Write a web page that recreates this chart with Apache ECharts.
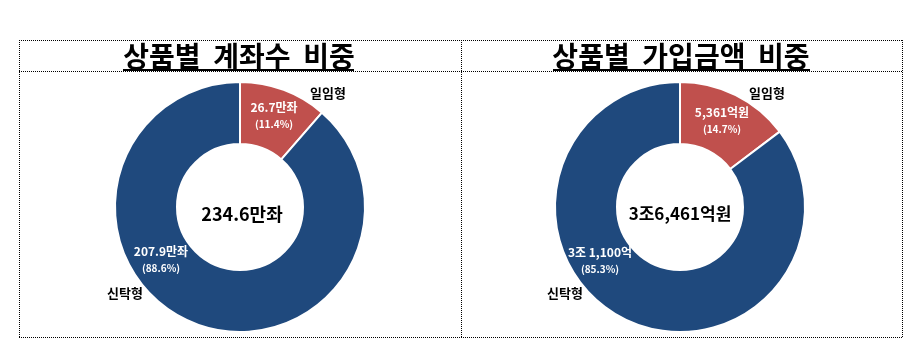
<!DOCTYPE html>
<html>
<head>
<meta charset="utf-8">
<script src="https://cdn.jsdelivr.net/npm/echarts@6/dist/echarts.min.js"></script>
<style>
  html, body { margin: 0; padding: 0; background: #fff; }
  #chart { width: 920px; height: 354px; }
</style>
</head>
<body>
<div id="chart"></div>
<script>
// 데이터
var names = ['일임형', '신탁형'];
var accountValues = [26.7, 207.9];        // 만좌
var accountTexts = ['26.7만좌', '207.9만좌'];
var accountPct = ['11.4%', '88.6%'];
var accountTotal = '234.6만좌';
var amountValues = [5361, 31100];         // 억원
var amountTexts = ['5,361억원', '3조 1,100억'];
var amountPct = ['14.7%', '85.3%'];
var amountTotal = '3조6,461억원';

var colors = ['#C0504D', '#1F497D'];
var font = '"Noto Sans CJK KR", sans-serif';

function pieData(values) {
    return values.map(function (v, i) {
        return { name: names[i], value: v, itemStyle: { color: colors[i] } };
    });
}

// 값 라벨 (일임형, 신탁형)
function valueSeries(cx, values, texts, pct, pos) {
    return {
        type: 'pie',
        center: [cx, 207],
        radius: [63, 125],
        startAngle: 90,
        clockwise: true,
        silent: true,
        itemStyle: { borderColor: '#fff', borderWidth: 2 },
        label: {
            show: true,
            position: 'inside',
            formatter: function (p) {
                return '{v|' + texts[p.dataIndex] + '}\n{p|(' + pct[p.dataIndex] + ')}';
            },
            rich: {
                v: { color: '#fff', fontFamily: font, fontWeight: 'bold', fontSize: 12, lineHeight: 17 },
                p: { color: '#fff', fontFamily: font, fontWeight: 'bold', fontSize: 10, lineHeight: 17 }
            }
        },
        labelLine: { show: false },
        labelLayout: function (p) {
            return { x: pos[p.dataIndex][0], y: pos[p.dataIndex][1] };
        },
        data: pieData(values)
    };
}

// 이름 라벨 (바깥쪽)
function nameSeries(cx, values, pos) {
    return {
        type: 'pie',
        center: [cx, 207],
        radius: [63, 125],
        startAngle: 90,
        silent: true,
        z: 1,
        itemStyle: { color: 'transparent', borderWidth: 0 },
        label: {
            show: true,
            position: 'inside',
            formatter: '{b}',
            color: '#000',
            fontFamily: font,
            fontWeight: 'bold',
            fontSize: 13
        },
        labelLine: { show: false },
        labelLayout: function (p) {
            return { x: pos[p.dataIndex][0], y: pos[p.dataIndex][1] };
        },
        data: values.map(function (v, i) { return { name: names[i], value: v }; })
    };
}

var dot = { stroke: '#000', lineWidth: 1, lineDash: [1, 1] };

var chart = echarts.init(document.getElementById('chart'), null, { renderer: 'canvas' });
chart.setOption({
    animation: false,
    graphic: [
        { type: 'line', shape: { x1: 19, y1: 40.5, x2: 903, y2: 40.5 }, style: dot },
        { type: 'line', shape: { x1: 19, y1: 71.5, x2: 903, y2: 71.5 }, style: dot },
        { type: 'line', shape: { x1: 19, y1: 337.5, x2: 903, y2: 337.5 }, style: dot },
        { type: 'line', shape: { x1: 19.5, y1: 40, x2: 19.5, y2: 338 }, style: dot },
        { type: 'line', shape: { x1: 461.5, y1: 40, x2: 461.5, y2: 338 }, style: dot },
        { type: 'line', shape: { x1: 902.5, y1: 40, x2: 902.5, y2: 338 }, style: dot },
        { type: 'text', x: 239, y: 56, style: { text: '상품별  계좌수  비중', font: 'bold 28px ' + font, fill: '#000', textAlign: 'center', textVerticalAlign: 'middle' } },
        { type: 'line', shape: { x1: 123, y1: 70, x2: 354, y2: 70 }, style: { stroke: '#000', lineWidth: 2 } },
        { type: 'text', x: 681, y: 56, style: { text: '상품별  가입금액  비중', font: 'bold 28px ' + font, fill: '#000', textAlign: 'center', textVerticalAlign: 'middle' } },
        { type: 'line', shape: { x1: 553, y1: 70, x2: 810, y2: 70 }, style: { stroke: '#000', lineWidth: 2 } },
        { type: 'text', x: 242, y: 214, style: { text: accountTotal, font: 'bold 18px ' + font, fill: '#000', textAlign: 'center', textVerticalAlign: 'middle' } },
        { type: 'text', x: 680, y: 214, style: { text: amountTotal, font: 'bold 17px ' + font, fill: '#000', textAlign: 'center', textVerticalAlign: 'middle' } }
    ],
    series: [
        nameSeries(240, accountValues, [[328, 93], [125, 293]]),
        valueSeries(240, accountValues, accountTexts, accountPct, [[274, 116], [161, 260]]),
        nameSeries(680, amountValues, [[767, 93], [565, 293]]),
        valueSeries(680, amountValues, amountTexts, amountPct, [[722, 121], [600, 261]])
    ]
});
</script>
</body>
</html>
